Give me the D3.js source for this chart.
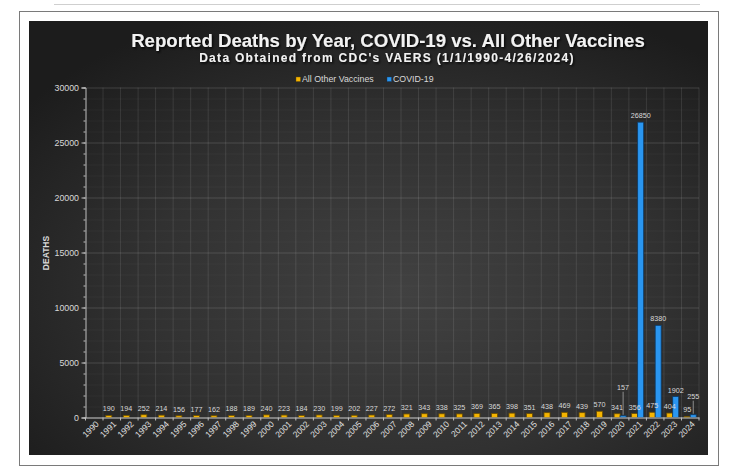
<!DOCTYPE html>
<html>
<head>
<meta charset="utf-8">
<script src="https://cdn.jsdelivr.net/npm/d3@7"></script>
<style>
  body { margin: 0; background: #fff; }
  svg { display: block; font-family: "Liberation Sans", Arial, sans-serif; }
</style>
</head>
<body>
<div id="chart"></div>
<script>
// data
const years = ["1990","1991","1992","1993","1994","1995","1996","1997","1998","1999",
  "2000","2001","2002","2003","2004","2005","2006","2007","2008","2009",
  "2010","2011","2012","2013","2014","2015","2016","2017","2018","2019",
  "2020","2021","2022","2023","2024"];
const otherVaccines = [null,190,194,252,214,156,177,162,188,189,
  240,223,184,230,199,202,227,272,321,343,
  338,325,369,365,398,351,438,469,439,570,
  341,356,475,404,95];
const covid19 = [null,null,null,null,null,null,null,null,null,null,
  null,null,null,null,null,null,null,null,null,null,
  null,null,null,null,null,null,null,null,null,null,
  157,26850,8380,1902,255];
const yTicks = [0,5000,10000,15000,20000,25000,30000];
const seriesNames = ["All Other Vaccines","COVID-19"];
// labels that were dragged up in the original, with a leader line
const covidLabelLift = { "2020": 22, "2024": 12 };

const W = 734, H = 472;
const plot = { left: 85.5, right: 699, top: 87.5, bottom: 417.5 };
const color = { "All Other Vaccines": "#f5b400", "COVID-19": "#2a96f0" };
const stroke = { "All Other Vaccines": "#6b4e00", "COVID-19": "#0d3b66" };
const textCol = "#d9d9d9";

const svg = d3.select("#chart").append("svg")
  .attr("width", W)
  .attr("height", H);

const defs = svg.append("defs");
const grad = defs.append("radialGradient")
  .attr("id", "bg")
  .attr("cx", "55%").attr("cy", "62%").attr("r", "70%");
grad.append("stop").attr("offset", "0%").attr("stop-color", "#414141");
grad.append("stop").attr("offset", "55%").attr("stop-color", "#313131");
grad.append("stop").attr("offset", "100%").attr("stop-color", "#1c1c1c");

const shadow = defs.append("filter").attr("id", "shadow")
  .attr("x", "-10%").attr("y", "-30%").attr("width", "120%").attr("height", "160%");
shadow.append("feDropShadow")
  .attr("dx", 1.2).attr("dy", 1.5).attr("stdDeviation", 0.8)
  .attr("flood-color", "#000").attr("flood-opacity", 0.9);

// page frame
svg.append("line")
  .attr("x1", 54).attr("x2", 700).attr("y1", 4.5).attr("y2", 4.5)
  .attr("stroke", "#cfcfcf");
svg.append("rect")
  .attr("x", 19.5).attr("y", 11.5).attr("width", 699).attr("height", 454)
  .attr("fill", "#fff").attr("stroke", "#7a7a7a");
svg.append("rect")
  .attr("x", 29).attr("y", 21).attr("width", 679).attr("height", 434)
  .attr("fill", "url(#bg)");

// titles
svg.append("text")
  .attr("x", 388).attr("y", 47)
  .attr("text-anchor", "middle")
  .attr("fill", "#f2f2f2")
  .attr("font-size", 18.6).attr("font-weight", "bold")
  .attr("filter", "url(#shadow)")
  .text("Reported Deaths by Year, COVID-19 vs. All Other Vaccines");
svg.append("text")
  .attr("x", 387).attr("y", 62)
  .attr("text-anchor", "middle")
  .attr("fill", "#f2f2f2")
  .attr("font-size", 12).attr("font-weight", "bold")
  .attr("letter-spacing", 1.3)
  .attr("filter", "url(#shadow)")
  .text("Data Obtained from CDC's VAERS (1/1/1990-4/26/2024)");

// legend
const legendX = [296, 387];
const legend = svg.append("g").selectAll("g")
  .data(seriesNames)
  .join("g")
  .attr("transform", (d, i) => `translate(${legendX[i]},77)`);
legend.append("rect")
  .attr("width", 4.5).attr("height", 4.5)
  .attr("fill", d => color[d]).attr("stroke", d => stroke[d]).attr("stroke-width", 0.4);
legend.append("text")
  .attr("x", 6).attr("y", 5.3)
  .attr("fill", textCol).attr("font-size", 8.8)
  .text(d => d);

// scales
const x = d3.scaleBand().domain(years).range([plot.left, plot.right]).padding(0);
const sub = d3.scaleBand().domain(seriesNames).range([0, x.bandwidth()])
  .paddingInner(0).paddingOuter(0.46);
const y = d3.scaleLinear().domain([0, 30000]).range([plot.bottom, plot.top]);

// gridlines
svg.append("g")
  .attr("transform", `translate(${plot.left},0)`)
  .call(d3.axisLeft(y).ticks(30).tickSize(-(plot.right - plot.left)).tickFormat(""))
  .call(g => g.select(".domain").remove())
  .call(g => g.selectAll("line").attr("stroke", "#fff").attr("stroke-opacity", 0.045));
svg.append("g")
  .attr("transform", `translate(${plot.left},0)`)
  .call(d3.axisLeft(y).tickValues(yTicks).tickSize(-(plot.right - plot.left)).tickFormat(""))
  .call(g => g.select(".domain").remove())
  .call(g => g.selectAll("line").attr("stroke", "#fff").attr("stroke-opacity", 0.17));
svg.append("g").selectAll("line")
  .data(years.slice(1).concat("end"))
  .join("line")
  .attr("x1", d => d === "end" ? plot.right : x(d))
  .attr("x2", d => d === "end" ? plot.right : x(d))
  .attr("y1", plot.top).attr("y2", plot.bottom)
  .attr("stroke", "#fff").attr("stroke-opacity", 0.1);

// bars
const rows = years.map((yr, i) => ({ year: yr, values: [
  { key: seriesNames[0], v: otherVaccines[i] },
  { key: seriesNames[1], v: covid19[i] }
]}));

const groups = svg.append("g").selectAll("g")
  .data(rows)
  .join("g")
  .attr("transform", d => `translate(${x(d.year)},0)`);

groups.selectAll("rect")
  .data(d => d.values.filter(s => s.v != null))
  .join("rect")
  .attr("x", d => sub(d.key))
  .attr("width", sub.bandwidth())
  .attr("y", d => y(d.v))
  .attr("height", d => y(0) - y(d.v))
  .attr("fill", d => color[d.key])
  .attr("stroke", d => stroke[d.key])
  .attr("stroke-width", 0.8);

// data labels
const labels = groups.selectAll("g.lab")
  .data(d => d.values.filter(s => s.v != null).map(s => ({ ...s, year: d.year })))
  .join("g").attr("class", "lab");

labels.append("text")
  .attr("x", d => sub(d.key) + sub.bandwidth() / 2)
  .attr("y", d => y(d.v) - 4 - (d.key === "COVID-19" ? (covidLabelLift[d.year] || 0) : 0))
  .attr("text-anchor", "middle")
  .attr("fill", textCol)
  .attr("font-size", 7.2)
  .text(d => d.v);

labels.filter(d => d.key === "COVID-19" && covidLabelLift[d.year])
  .append("line")
  .attr("x1", d => sub(d.key) + sub.bandwidth() / 2)
  .attr("x2", d => sub(d.key) + sub.bandwidth() / 2)
  .attr("y1", d => y(d.v) - 2 - covidLabelLift[d.year])
  .attr("y2", d => y(d.v) - 1)
  .attr("stroke", "#a6a6a6").attr("stroke-width", 0.8);

// axes
const yAxis = svg.append("g")
  .attr("transform", `translate(${plot.left},0)`)
  .call(d3.axisLeft(y).tickValues(yTicks).tickSize(4).tickPadding(2.5).tickFormat(d3.format("d")));
svg.append("g")
  .attr("transform", `translate(${plot.left},0)`)
  .call(d3.axisLeft(y).ticks(30).tickSize(2).tickFormat(""))
  .call(g => g.select(".domain").remove());
svg.selectAll(".domain, .tick line").attr("stroke", "#bfbfbf");
yAxis.selectAll("text").attr("fill", textCol).attr("font-size", 8.8)
  .attr("font-family", "'Liberation Sans', Arial, sans-serif");

const xAxis = svg.append("g")
  .attr("transform", `translate(0,${plot.bottom})`)
  .call(d3.axisBottom(x).tickSize(0).tickFormat(""));
xAxis.select(".domain").attr("stroke", "#bfbfbf").attr("stroke-width", 1.2);
svg.append("g").selectAll("line")
  .data(years.concat("end"))
  .join("line")
  .attr("x1", d => d === "end" ? plot.right : x(d))
  .attr("x2", d => d === "end" ? plot.right : x(d))
  .attr("y1", plot.bottom).attr("y2", plot.bottom + 3)
  .attr("stroke", "#bfbfbf");

svg.append("g").selectAll("text")
  .data(years)
  .join("text")
  .attr("transform", d => `translate(${x(d) + x.bandwidth() / 2 + 3},${plot.bottom + 5}) rotate(-45)`)
  .attr("text-anchor", "end")
  .attr("dy", "0.35em")
  .attr("fill", "#e0e0e0")
  .attr("font-size", 8.5)
  .text(d => d);

// y axis title
svg.append("text")
  .attr("transform", "translate(49,253) rotate(-90)")
  .attr("text-anchor", "middle")
  .attr("fill", textCol)
  .attr("font-size", 8.5).attr("font-weight", "bold")
  .text("DEATHS");
</script>
</body>
</html>
